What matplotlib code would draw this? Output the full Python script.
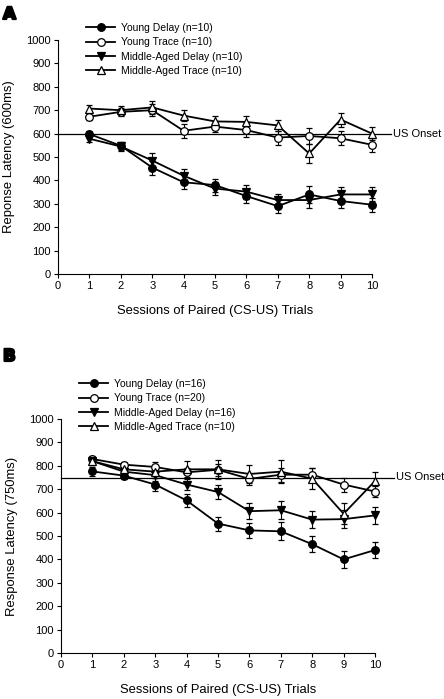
import matplotlib
matplotlib.use("Agg")
import matplotlib.pyplot as plt
import matplotlib.patheffects as pe
from matplotlib.lines import Line2D
import numpy as np

plt.rcParams['font.family'] = ['Liberation Sans', 'DejaVu Sans']

sessions = np.arange(1, 11)

# panel A (600 ms trace interval)
a_labels = ["Young Delay (n=10)", "Young Trace (n=10)",
            "Middle-Aged Delay (n=10)", "Middle-Aged Trace (n=10)"]
a_young_delay = [598, 548, 455, 392, 380, 333, 290, 340, 312, 296]
a_young_trace = [672, 693, 700, 612, 630, 615, 583, 590, 580, 552]
a_ma_delay = [578, 545, 485, 420, 365, 352, 316, 316, 340, 340]
a_ma_trace = [707, 700, 712, 677, 652, 650, 635, 515, 660, 600]
a_young_delay_err = [15, 18, 30, 30, 28, 30, 28, 35, 30, 30]
a_young_trace_err = [15, 18, 25, 30, 25, 30, 30, 35, 30, 30]
a_ma_delay_err = [15, 18, 30, 30, 28, 30, 28, 35, 30, 30]
a_ma_trace_err = [15, 20, 28, 25, 25, 25, 25, 40, 30, 28]
a_onset = 600

# panel B (750 ms trace interval)
b_labels = ["Young Delay (n=16)", "Young Trace (n=20)",
            "Middle-Aged Delay (n=16)", "Middle-Aged Trace (n=10)"]
b_young_delay = [776, 758, 720, 652, 553, 524, 520, 465, 400, 440]
b_young_trace = [829, 805, 795, 772, 783, 744, 762, 762, 720, 690]
b_ma_delay = [820, 775, 760, 720, 688, 606, 610, 570, 572, 588]
b_ma_trace = [820, 785, 775, 785, 785, 765, 775, 745, 595, 735]
b_young_delay_err = [20, 15, 28, 28, 30, 32, 38, 35, 38, 35]
b_young_trace_err = [12, 12, 20, 20, 25, 25, 30, 30, 30, 25]
b_ma_delay_err = [15, 15, 25, 25, 32, 35, 38, 35, 38, 35]
b_ma_trace_err = [15, 15, 25, 35, 40, 40, 50, 45, 45, 40]
b_onset = 750

styles = [
    dict(marker='o', mfc='black'),
    dict(marker='o', mfc='white'),
    dict(marker='v', mfc='black'),
    dict(marker='^', mfc='white'),
]

fig = plt.figure(figsize=(4.44, 6.99), dpi=100)
W, H = 444.0, 699.0


def panel(rect, series, errs, labels, onset, ylabel, letter, letter_y, leg_xy):
    x0, y1000, x10, y0 = rect
    ax = fig.add_axes([x0 / W, 1 - y0 / H, (x10 - x0) / W, (y0 - y1000) / H])
    handles = []
    for vals, err, st, lab in zip(series, errs, styles, labels):
        ax.errorbar(sessions, vals, yerr=err, color='black', lw=1.3,
                    ms=5.5, mec='black', mew=0.9, capsize=2, elinewidth=0.8,
                    capthick=0.8, clip_on=False, zorder=3, **st)
        handles.append(Line2D([], [], color='black', lw=1.3, ms=5.5,
                              mec='black', mew=0.9, label=lab, **st))
    ax.plot([0, 10.6], [onset, onset], color='black', lw=0.9, clip_on=False, zorder=1)
    ax.text(10.67, onset, "US Onset", va='center', ha='left', fontsize=8)
    ax.set_xlim(0, 10)
    ax.set_ylim(0, 1000)
    ax.set_xticks(range(0, 11))
    ax.set_yticks(range(0, 1001, 100))
    ax.spines['top'].set_visible(False)
    ax.spines['right'].set_visible(False)
    ax.tick_params(direction='out', length=3, width=0.8, labelsize=8, pad=2)
    ax.set_xlabel("Sessions of Paired (CS-US) Trials", fontsize=9.4, labelpad=10)
    ax.set_ylabel(ylabel, fontsize=9.4, labelpad=8)
    fig.text(3 / W, 1 - letter_y / H, letter, fontsize=12, fontweight='heavy',
             family='DejaVu Sans', va='top', ha='left',
             path_effects=[pe.withStroke(linewidth=1.6, foreground='black')])
    fig.legend(handles=handles, loc='upper left',
               bbox_to_anchor=(leg_xy[0] / W, 1 - leg_xy[1] / H),
               frameon=False, fontsize=7.5, handlelength=2.8, handletextpad=0.55,
               labelspacing=0.42, borderaxespad=0, borderpad=0)
    return ax


panel((58, 40, 372, 274),
      [a_young_delay, a_young_trace, a_ma_delay, a_ma_trace],
      [a_young_delay_err, a_young_trace_err, a_ma_delay_err, a_ma_trace_err],
      a_labels, a_onset, "Reponse Latency (600ms)", "A", 5, (86, 23))

panel((61, 419, 375, 653),
      [b_young_delay, b_young_trace, b_ma_delay, b_ma_trace],
      [b_young_delay_err, b_young_trace_err, b_ma_delay_err, b_ma_trace_err],
      b_labels, b_onset, "Response Latency (750ms)", "B", 347, (79, 379))

fig.savefig("out.png", dpi=100)
